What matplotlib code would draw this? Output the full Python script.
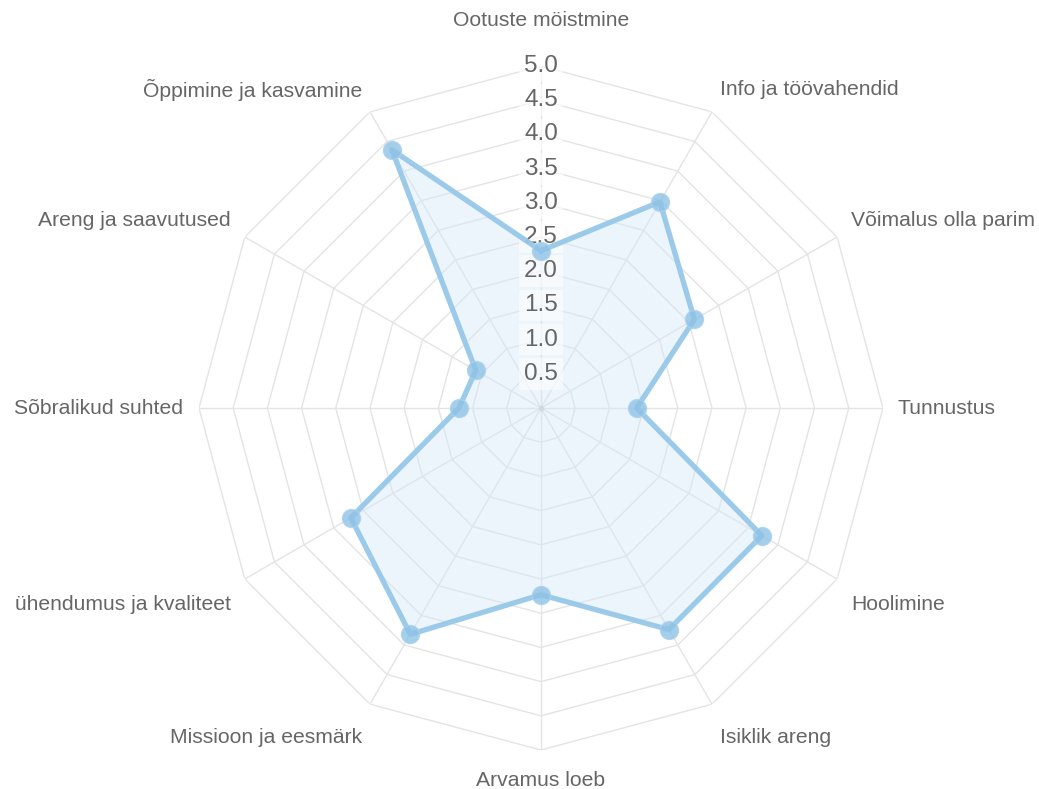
import matplotlib.pyplot as plt
import numpy as np

categories = ["Ootuste möistmine", "Info ja töövahendid", "Võimalus olla parim",
              "Tunnustus", "Hoolimine", "Isiklik areng", "Arvamus loeb",
              "Missioon ja eesmärk", "ühendumus ja kvaliteet", "Sõbralikud suhted",
              "Areng ja saavutused", "Õppimine ja kasvamine"]
values = [2.3, 3.48, 2.59, 1.4, 3.73, 3.74, 2.73, 3.82, 3.21, 1.2, 1.1, 4.36]
ticks = [0.5, 1.0, 1.5, 2.0, 2.5, 3.0, 3.5, 4.0, 4.5, 5.0]

plt.rcParams['font.family'] = ['Liberation Sans', 'DejaVu Sans']

n = len(categories)
theta = np.arange(n) * 2 * np.pi / n
theta_c = np.append(theta, theta[0])
vals_c = np.append(values, values[0])

fig = plt.figure(figsize=(10.39, 7.89), dpi=100)
ax = fig.add_axes([0.1915, 0.0494, 0.6583, 0.8669], projection='polar')
ax.set_theta_zero_location('N')
ax.set_theta_direction(-1)
ax.set_ylim(0, 5)
ax.grid(False)
ax.spines['polar'].set_visible(False)
ax.set_xticks([])
ax.set_yticks([])
ax.patch.set_alpha(0)

grid_col = '#e4e4e4'
# polygon rings
for t in ticks:
    ax.plot(theta_c, [t] * (n + 1), color=grid_col, lw=1, zorder=1)
# spokes
for th in theta:
    ax.plot([th, th], [0, 5], color=grid_col, lw=1, zorder=1)
ax.plot([0], [0], 'o', ms=3, color='#cccccc', zorder=1)

# data fill
ax.fill(theta_c, vals_c, color='#d6e9f8', alpha=0.45, zorder=2, lw=0)

# tick labels with white backdrop
for t in ticks:
    ax.text(0, t, f"{t:.1f}", ha='center', va='center', fontsize=17.5, color='#666666',
            zorder=3, bbox=dict(boxstyle='square,pad=0.2', fc='white', ec='none', alpha=0.6))

# data line and points
ax.plot(theta_c, vals_c, color='#97c8e9', lw=3.8, zorder=4, alpha=0.95)
ax.plot(theta, values, 'o', ms=13, color='#8fc2e6', alpha=0.8, zorder=5,
        markeredgecolor='#a9d1ee', markeredgewidth=1)

# category labels: pixel offsets from the outer ring vertex
offsets = [(0, 46), (8, 22), (14, 17), (15, 0), (14, -25), (8, -33),
           (0, -30), (-8, -33), (-14, -25), (-16, 0), (-14, 17), (-8, 22)]
for th, lab, (dx, dy) in zip(theta, categories, offsets):
    ha = 'center' if dx == 0 else ('left' if dx > 0 else 'right')
    ax.annotate(lab, xy=(th, 5), xytext=(dx, dy), textcoords='offset pixels',
                ha=ha, va='center', fontsize=15.2, color='#666666',
                annotation_clip=False)

fig.savefig('out.png', dpi=100)
